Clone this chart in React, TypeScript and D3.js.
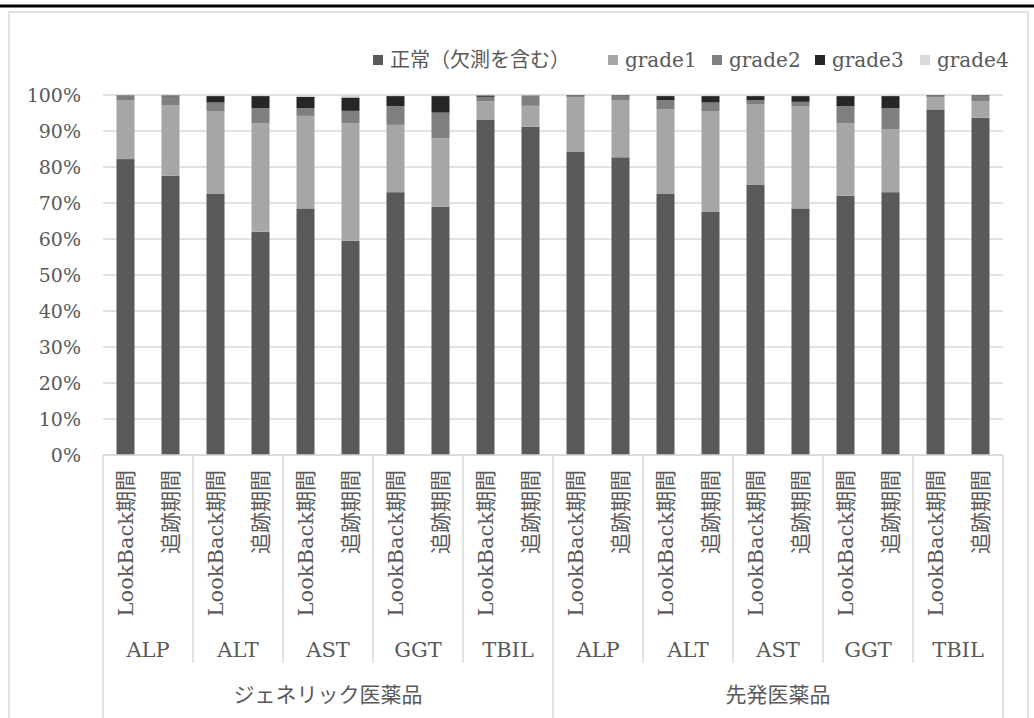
import React from "react";
import * as d3 from "d3";

const groups = ["ジェネリック医薬品", "先発医薬品"];
const tests = ["ALP", "ALT", "AST", "GGT", "TBIL"];
const periods = ["LookBack期間", "追跡期間"];
const seriesNames = ["正常（欠測を含む）", "grade1", "grade2", "grade3", "grade4"];
const seriesColors = ["#595959", "#a6a6a6", "#7f7f7f", "#262626", "#d9d9d9"];
const yTicks = [0, 0.1, 0.2, 0.3, 0.4, 0.5, 0.6, 0.7, 0.8, 0.9, 1.0];

// percentages per bar, order: generic (ALP LB, ALP 追跡, ALT LB, ...), then brand
const normal = [82.2, 77.6, 72.5, 62.0, 68.5, 59.5, 73.0, 69.0, 93.2, 91.2, 84.3, 82.7, 72.5, 67.5, 75.0, 68.5, 72.0, 73.0, 96.0, 93.7];
const grade1 = [16.4, 19.6, 22.9, 30.1, 25.7, 32.6, 18.7, 19.0, 5.0, 5.8, 15.1, 15.9, 23.5, 27.9, 22.5, 28.3, 20.1, 17.5, 3.4, 4.6];
const grade2 = [1.1, 2.4, 2.5, 4.2, 2.1, 3.5, 5.2, 7.1, 1.3, 2.8, 0.5, 1.3, 2.6, 2.5, 1.1, 1.3, 4.8, 5.8, 0.5, 1.6];
const grade3 = [0.2, 0.3, 1.8, 3.4, 3.2, 3.7, 2.8, 4.6, 0.4, 0.1, 0.1, 0.1, 1.1, 1.8, 1.1, 1.6, 2.8, 3.4, 0.1, 0.1];
const grade4 = [0.1, 0.1, 0.3, 0.3, 0.5, 0.7, 0.3, 0.3, 0.1, 0.1, 0.0, 0.0, 0.3, 0.3, 0.3, 0.3, 0.3, 0.3, 0.0, 0.0];

const W = 1034;
const H = 718;
const FONT = "'DejaVu Serif', 'Noto Sans CJK JP', serif";
const TXT = "#595959";
const LINE = "#d9d9d9";

export default function App() {
  const left = 103;
  const right = 1003;
  const top = 95;
  const bottom = 455;

  const keys = groups.flatMap((g) => tests.flatMap((t) => periods.map((p) => `${g}|${t}|${p}`)));
  const rows = keys.map((k, i) => {
    const [g, t, p] = k.split("|");
    return { key: k, group: g, test: t, period: p, s0: normal[i] / 100, s1: grade1[i] / 100, s2: grade2[i] / 100, s3: grade3[i] / 100, s4: grade4[i] / 100 };
  });

  const x = d3.scaleBand<string>().domain(keys).range([left, right]).paddingInner(0.6).paddingOuter(0.3);
  const y = d3.scaleLinear().domain([0, 1]).range([bottom, top]);
  const stack = d3.stack<any>().keys(["s0", "s1", "s2", "s3", "s4"]);
  const stacked = stack(rows);

  const testCount = groups.length * tests.length;
  const testW = (right - left) / testCount;
  const groupW = (right - left) / groups.length;

  const legendX = [373, 608, 712, 815, 920];

  return (
    <div style={{ position: "absolute", left: 0, top: 0, width: W, height: H, overflow: "hidden", background: "#fff" }}>
      <svg width={W} height={H} style={{ display: "block" }} fontFamily={FONT}>
        <rect x={0} y={0} width={W} height={H} fill="#fff" />
        <line x1={0} x2={W} y1={6} y2={6} stroke="#000" strokeWidth={3} />
        <rect x={9} y={12} width={1019} height={740} fill="none" stroke={LINE} strokeWidth={1.5} />

        {/* gridlines */}
        {yTicks.map((t) => (
          <line key={t} x1={left} x2={right} y1={y(t)} y2={y(t)} stroke={LINE} strokeWidth={1.5} />
        ))}
        {yTicks.map((t) => (
          <text key={"l" + t} x={81} y={y(t)} textAnchor="end" dominantBaseline="central" fontSize={19} fill={TXT}>
            {Math.round(t * 100) + "%"}
          </text>
        ))}

        {/* bars */}
        {stacked.map((layer, si) => (
          <g key={si} fill={seriesColors[si]}>
            {layer.map((d, i) => (
              <rect key={i} x={x(keys[i])} width={x.bandwidth()} y={y(d[1])} height={Math.max(0, y(d[0]) - y(d[1]))} />
            ))}
          </g>
        ))}

        {/* category axis */}
        <line x1={left} x2={right} y1={bottom} y2={bottom} stroke={LINE} strokeWidth={1.5} />
        {d3.range(testCount + 1).map((i) => {
          const xx = left + i * testW;
          const outer = i % tests.length === 0;
          return <line key={"s" + i} x1={xx} x2={xx} y1={bottom} y2={outer ? H + 20 : 663} stroke={LINE} strokeWidth={1.5} />;
        })}
        {rows.map((r) => (
          <text
            key={"p" + r.key}
            transform={`translate(${(x(r.key) as number) + x.bandwidth() / 2},470) rotate(-90)`}
            textAnchor="end"
            dominantBaseline="central"
            fontSize={21}
            fill={TXT}
          >
            {r.period}
          </text>
        ))}
        {d3.range(testCount).map((i) => (
          <text key={"t" + i} x={left + (i + 0.5) * testW} y={650} textAnchor="middle" dominantBaseline="central" fontSize={21} fill={TXT}>
            {tests[i % tests.length]}
          </text>
        ))}
        {groups.map((g, i) => (
          <text key={g} x={left + (i + 0.5) * groupW} y={695} textAnchor="middle" dominantBaseline="central" fontSize={21} fill={TXT}>
            {g}
          </text>
        ))}

        {/* legend */}
        {seriesNames.map((n, i) => (
          <g key={n}>
            <rect x={legendX[i]} y={55} width={10} height={10} fill={seriesColors[i]} />
            <text x={legendX[i] + 17} y={60} dominantBaseline="central" fontSize={20} fill={TXT}>
              {n}
            </text>
          </g>
        ))}
      </svg>
    </div>
  );
}
